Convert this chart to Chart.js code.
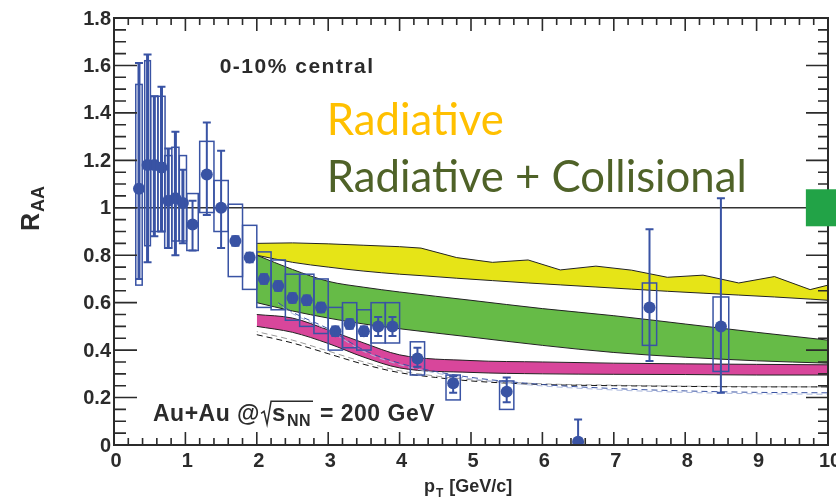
<!DOCTYPE html>
<html>
<head>
<meta charset="utf-8">
<script src="https://cdn.jsdelivr.net/npm/chart.js@4.4.0/dist/chart.umd.min.js"></script>
<style>
body { margin: 0; background: #fff; }
canvas { display: block; }
</style>
</head>
<body>
<canvas id="myChart" width="836" height="502"></canvas>
<script>
// measured points (pT in GeV/c)
const ptX = [0.35, 0.47, 0.565, 0.665, 0.76, 0.86, 0.965, 1.1, 1.3, 1.5, 1.7, 1.9, 2.1, 2.3, 2.5, 2.7, 2.9, 3.1, 3.3, 3.5, 3.7, 3.9, 4.25, 4.75, 5.5, 6.5, 7.5, 8.5];
const ptY = [1.08, 1.18, 1.18, 1.17, 1.03, 1.04, 1.02, 0.93, 1.14, 1.00, 0.86, 0.79, 0.70, 0.67, 0.62, 0.61, 0.58, 0.48, 0.51, 0.48, 0.50, 0.50, 0.365, 0.26, 0.225, 0.014, 0.58, 0.50];
const statLo = [0.70, 0.77, 0.88, 0.90, 0.83, 0.80, 0.85, 0.82, 0.97, 0.83, 0.84, 0.77, 0.68, 0.65, 0.60, 0.59, 0.56, 0.46, 0.49, 0.46, 0.46, 0.46, 0.33, 0.22, 0.18, 0.0, 0.354, 0.22];
const statHi = [1.61, 1.646, 1.47, 1.51, 1.25, 1.32, 1.16, 1.03, 1.36, 1.24, 0.88, 0.81, 0.72, 0.69, 0.64, 0.63, 0.60, 0.50, 0.53, 0.50, 0.54, 0.54, 0.41, 0.29, 0.285, 0.108, 0.91, 1.04];
const sysLo = [0.674, 0.84, 0.90, 0.90, 0.83, 0.86, 0.86, 0.82, 0.98, 0.90, 0.71, 0.656, 0.58, 0.57, 0.526, 0.50, 0.47, 0.40, 0.41, 0.40, 0.43, 0.43, 0.295, 0.19, 0.15, null, 0.42, 0.31];
const sysHi = [1.52, 1.62, 1.47, 1.47, 1.22, 1.255, 1.22, 1.06, 1.28, 1.115, 1.015, 0.926, 0.814, 0.78, 0.72, 0.72, 0.70, 0.58, 0.60, 0.57, 0.60, 0.60, 0.435, 0.295, 0.27, null, 0.683, 0.624];
const binW = [0.09, 0.08, 0.1, 0.1, 0.1, 0.1, 0.1, 0.16, 0.2, 0.2, 0.2, 0.2, 0.2, 0.2, 0.2, 0.2, 0.2, 0.2, 0.2, 0.2, 0.2, 0.2, 0.2, 0.2, 0.2, 0.2, 0.2, 0.22];

// radiative band (yellow)
const radX = [2.0, 2.5, 3.0, 3.5, 4.0, 4.3, 4.8, 5.3, 5.8, 6.25, 6.75, 7.25, 7.75, 8.25, 8.75, 9.25, 9.75, 10.0];
const radHi = [0.85, 0.852, 0.848, 0.842, 0.836, 0.83, 0.79, 0.77, 0.78, 0.738, 0.754, 0.737, 0.707, 0.716, 0.683, 0.71, 0.655, 0.674];
const radLo = [0.80, 0.77, 0.75, 0.733, 0.72, 0.714, 0.703, 0.693, 0.683, 0.675, 0.666, 0.657, 0.648, 0.64, 0.632, 0.624, 0.615, 0.61];

// radiative + collisional band (green) and magenta band
const bandX = [2.0, 2.5, 3.0, 3.5, 4.0, 5.0, 6.0, 7.0, 8.0, 9.0, 10.0];
const grnHi = [0.80, 0.74, 0.69, 0.665, 0.645, 0.61, 0.575, 0.545, 0.51, 0.475, 0.442];
const grnLo = [0.60, 0.565, 0.535, 0.51, 0.49, 0.455, 0.42, 0.39, 0.37, 0.355, 0.345];
const magHi = [0.55, 0.535, 0.485, 0.43, 0.38, 0.356, 0.35, 0.345, 0.342, 0.34, 0.338];
const magLo = [0.50, 0.475, 0.428, 0.37, 0.325, 0.306, 0.30, 0.298, 0.297, 0.295, 0.295];

// dashed curves
const dashX = [2.0, 2.5, 3.0, 3.5, 4.0, 4.5, 5.0, 6.0, 7.0, 8.0, 9.0, 10.0];
const blackDash = [0.465, 0.43, 0.385, 0.34, 0.305, 0.285, 0.27, 0.255, 0.25, 0.247, 0.245, 0.245];
const grayDash = [0.478, 0.442, 0.396, 0.35, 0.313, 0.291, 0.275, 0.258, 0.252, 0.248, 0.246, 0.245];
const blueX = [2.3, 2.5, 3.0, 3.5, 4.0, 4.5, 5.0, 6.0, 7.0, 8.0, 9.0, 10.0];
const blueDash = [0.60, 0.56, 0.49, 0.40, 0.345, 0.31, 0.285, 0.255, 0.238, 0.228, 0.222, 0.22];

const xTicks = [0, 1, 2, 3, 4, 5, 6, 7, 8, 9, 10];
const yTicks = [0, 0.2, 0.4, 0.6, 0.8, 1, 1.2, 1.4, 1.6, 1.8];
const yTickLabels = ["0", "0.2", "0.4", "0.6", "0.8", "1", "1.2", "1.4", "1.6", "1.8"];

const blue = "#3953a4";
const ink = "#2b2b2b";

function xy(xs, ys) {
    return xs.map((x, i) => ({ x: x, y: ys[i] }));
}

function lineSet(xs, ys, opts) {
    return Object.assign({
        type: "line",
        data: xy(xs, ys),
        pointRadius: 0,
        borderWidth: 1,
        borderColor: "#222",
        fill: false,
        cubicInterpolationMode: "monotone"
    }, opts);
}

// error bars + systematic boxes, drawn through the scales
const errorBars = {
    id: "errorBars",
    afterDatasetsDraw(chart) {
        const { ctx, scales: { x, y } } = chart;
        ctx.save();
        ctx.strokeStyle = blue;
        for (let i = 0; i < ptX.length; i++) {
            const px = x.getPixelForValue(ptX[i]);
            const lo = y.getPixelForValue(statLo[i]);
            const hi = y.getPixelForValue(statHi[i]);
            ctx.lineWidth = ptX[i] < 1 ? 3 : 2;
            ctx.beginPath();
            ctx.moveTo(px, lo);
            ctx.lineTo(px, hi);
            ctx.stroke();
            ctx.lineWidth = 2;
            ctx.beginPath();
            ctx.moveTo(px - 4, lo);
            ctx.lineTo(px + 4, lo);
            ctx.moveTo(px - 4, hi);
            ctx.lineTo(px + 4, hi);
            ctx.stroke();
            if (sysLo[i] !== null) {
                const l = x.getPixelForValue(ptX[i] - binW[i] / 2);
                const r = x.getPixelForValue(ptX[i] + binW[i] / 2);
                const t = y.getPixelForValue(sysHi[i]);
                const b = y.getPixelForValue(sysLo[i]);
                ctx.lineWidth = 1.5;
                ctx.strokeRect(l, t, r - l, b - t);
            }
        }
        ctx.restore();
    }
};

function drawSub(ctx, main, sub, x, y, mainFont, subFont, drop) {
    ctx.font = mainFont;
    ctx.fillText(main, x, y);
    const w = ctx.measureText(main).width;
    ctx.font = subFont;
    ctx.fillText(sub, x + w + 1, y + drop);
    return x + w + 1 + ctx.measureText(sub).width;
}

// frame with inward ticks, tick labels, titles and notes
const frame = {
    id: "frame",
    afterDraw(chart) {
        const { ctx, chartArea: a, scales: { x, y } } = chart;
        ctx.save();
        ctx.strokeStyle = ink;
        ctx.lineWidth = 2;
        ctx.strokeRect(a.left, a.top, a.right - a.left, a.bottom - a.top);

        ctx.lineWidth = 1.6;
        ctx.beginPath();
        for (let k = 0; k <= 50; k++) {
            const px = x.getPixelForValue(k * 0.2);
            const len = k % 5 === 0 ? 13 : 7;
            ctx.moveTo(px, a.bottom);
            ctx.lineTo(px, a.bottom - len);
            ctx.moveTo(px, a.top);
            ctx.lineTo(px, a.top + len);
        }
        for (let k = 0; k <= 36; k++) {
            const py = y.getPixelForValue(k * 0.05);
            const major = k % 4 === 0;
            ctx.moveTo(a.left, py);
            ctx.lineTo(a.left + (major ? 23 : 12), py);
            ctx.moveTo(a.right, py);
            ctx.lineTo(a.right - (major ? 22 : 10), py);
        }
        ctx.stroke();

        ctx.fillStyle = ink;
        ctx.font = 'bold 20px "Liberation Sans"';
        ctx.textAlign = "right";
        ctx.textBaseline = "middle";
        yTicks.forEach((v, i) => {
            ctx.fillText(yTickLabels[i], a.left - 3, y.getPixelForValue(v) + 1);
        });
        ctx.textAlign = "center";
        ctx.textBaseline = "top";
        xTicks.forEach(v => {
            ctx.fillText(String(v), x.getPixelForValue(v) + 2, a.bottom + 6);
        });

        // axis titles
        ctx.textAlign = "left";
        ctx.textBaseline = "alphabetic";
        ctx.save();
        ctx.translate(39, 231);
        ctx.rotate(-Math.PI / 2);
        drawSub(ctx, "R", "AA", 0, 0, 'bold 25px "Liberation Sans"', 'bold 18px "Liberation Sans"', 5);
        ctx.restore();
        let tx = drawSub(ctx, "p", "T", 424, 492, 'bold 18px "Liberation Sans"', 'bold 12px "Liberation Sans"', 5);
        ctx.font = 'bold 18px "Liberation Sans"';
        ctx.fillText(" [GeV/c]", tx + 1, 492);

        // notes
        ctx.font = 'bold 21px "Liberation Sans"';
        ctx.letterSpacing = "1.5px";
        ctx.fillText("0-10% central", x.getPixelForValue(1.48), y.getPixelForValue(1.57));

        ctx.letterSpacing = "0.5px";
        let cx = x.getPixelForValue(0.546);
        const by = y.getPixelForValue(0.10);
        ctx.font = 'bold 23px "Liberation Sans"';
        ctx.fillText("Au+Au @", cx, by);
        cx += ctx.measureText("Au+Au @").width + 1;
        ctx.font = 'bold 24px "Liberation Sans"';
        const sW = ctx.measureText("s").width;
        ctx.font = 'bold 16px "Liberation Sans"';
        const nW = ctx.measureText("NN").width;
        ctx.lineWidth = 1.5;
        ctx.beginPath();
        ctx.moveTo(cx, by - 8);
        ctx.lineTo(cx + 3, by - 10);
        ctx.lineTo(cx + 6, by + 3);
        ctx.lineTo(cx + 10, by - 20);
        ctx.lineTo(cx + 12 + sW + nW + 2, by - 20);
        ctx.stroke();
        cx = drawSub(ctx, "s", "NN", cx + 11, by, 'bold 24px "Liberation Sans"', 'bold 16px "Liberation Sans"', 5);
        ctx.font = 'bold 23px "Liberation Sans"';
        ctx.fillText(" = 200 GeV", cx + 2, by);
        ctx.letterSpacing = "0px";

        const target = x.getPixelForValue(8.87) - x.getPixelForValue(2.98);
        ctx.font = '44px Lato';
        const size = 44 * target / ctx.measureText("Radiative + Collisional").width;
        ctx.font = size.toFixed(1) + 'px Lato';
        ctx.fillStyle = "#ffc000";
        ctx.fillText("Radiative", x.getPixelForValue(2.98), y.getPixelForValue(1.305));
        ctx.fillStyle = "#4f6228";
        ctx.fillText("Radiative + Collisional", x.getPixelForValue(2.98), y.getPixelForValue(1.065));

        // green legend patch at the right edge
        ctx.fillStyle = "#22a347";
        const gl = x.getPixelForValue(9.69);
        const gt = y.getPixelForValue(1.078);
        const gb = y.getPixelForValue(0.922);
        ctx.fillRect(gl, gt, chart.width - gl, gb - gt);
        ctx.restore();
    }
};

const chart = new Chart("myChart", {
    type: "scatter",
    plugins: [errorBars, frame],
    data: {
        datasets: [
            {
                data: xy(ptX, ptY),
                pointRadius: 6,
                pointBackgroundColor: blue,
                pointBorderColor: blue,
                pointBorderWidth: 0,
                showLine: false
            },
            lineSet([0, 10], [1, 1], { borderWidth: 1.5, borderColor: "#333" }),
            lineSet(blueX, blueDash, { borderColor: "#3953a4", borderDash: [6, 4] }),
            lineSet(blueX, blueDash.map(v => v - 0.006), { borderColor: "#aab7dc", borderDash: [6, 4], borderDashOffset: 5 }),
            lineSet(dashX, blackDash, { borderColor: "#111", borderDash: [6, 4] }),
            lineSet(dashX, grayDash, { borderColor: "#9a9a9a", borderDash: [6, 4], borderDashOffset: 5 }),
            lineSet(bandX, magLo),
            lineSet(bandX, magHi, { fill: "-1", backgroundColor: "#d8469b" }),
            lineSet(bandX, grnLo),
            lineSet(bandX, grnHi, { fill: "-1", backgroundColor: "#66bb47" }),
            lineSet(radX, radLo),
            lineSet(radX, radHi, { fill: "-1", backgroundColor: "#e6e417", cubicInterpolationMode: "default", tension: 0 })
        ]
    },
    options: {
        responsive: false,
        animation: false,
        events: [],
        layout: {
            padding: { left: 114, right: 8, top: 18, bottom: 57 }
        },
        plugins: {
            legend: { display: false },
            tooltip: { enabled: false }
        },
        scales: {
            x: { type: "linear", min: 0, max: 10, display: false },
            y: { type: "linear", min: 0, max: 1.8, display: false }
        }
    }
});
</script>
</body>
</html>
